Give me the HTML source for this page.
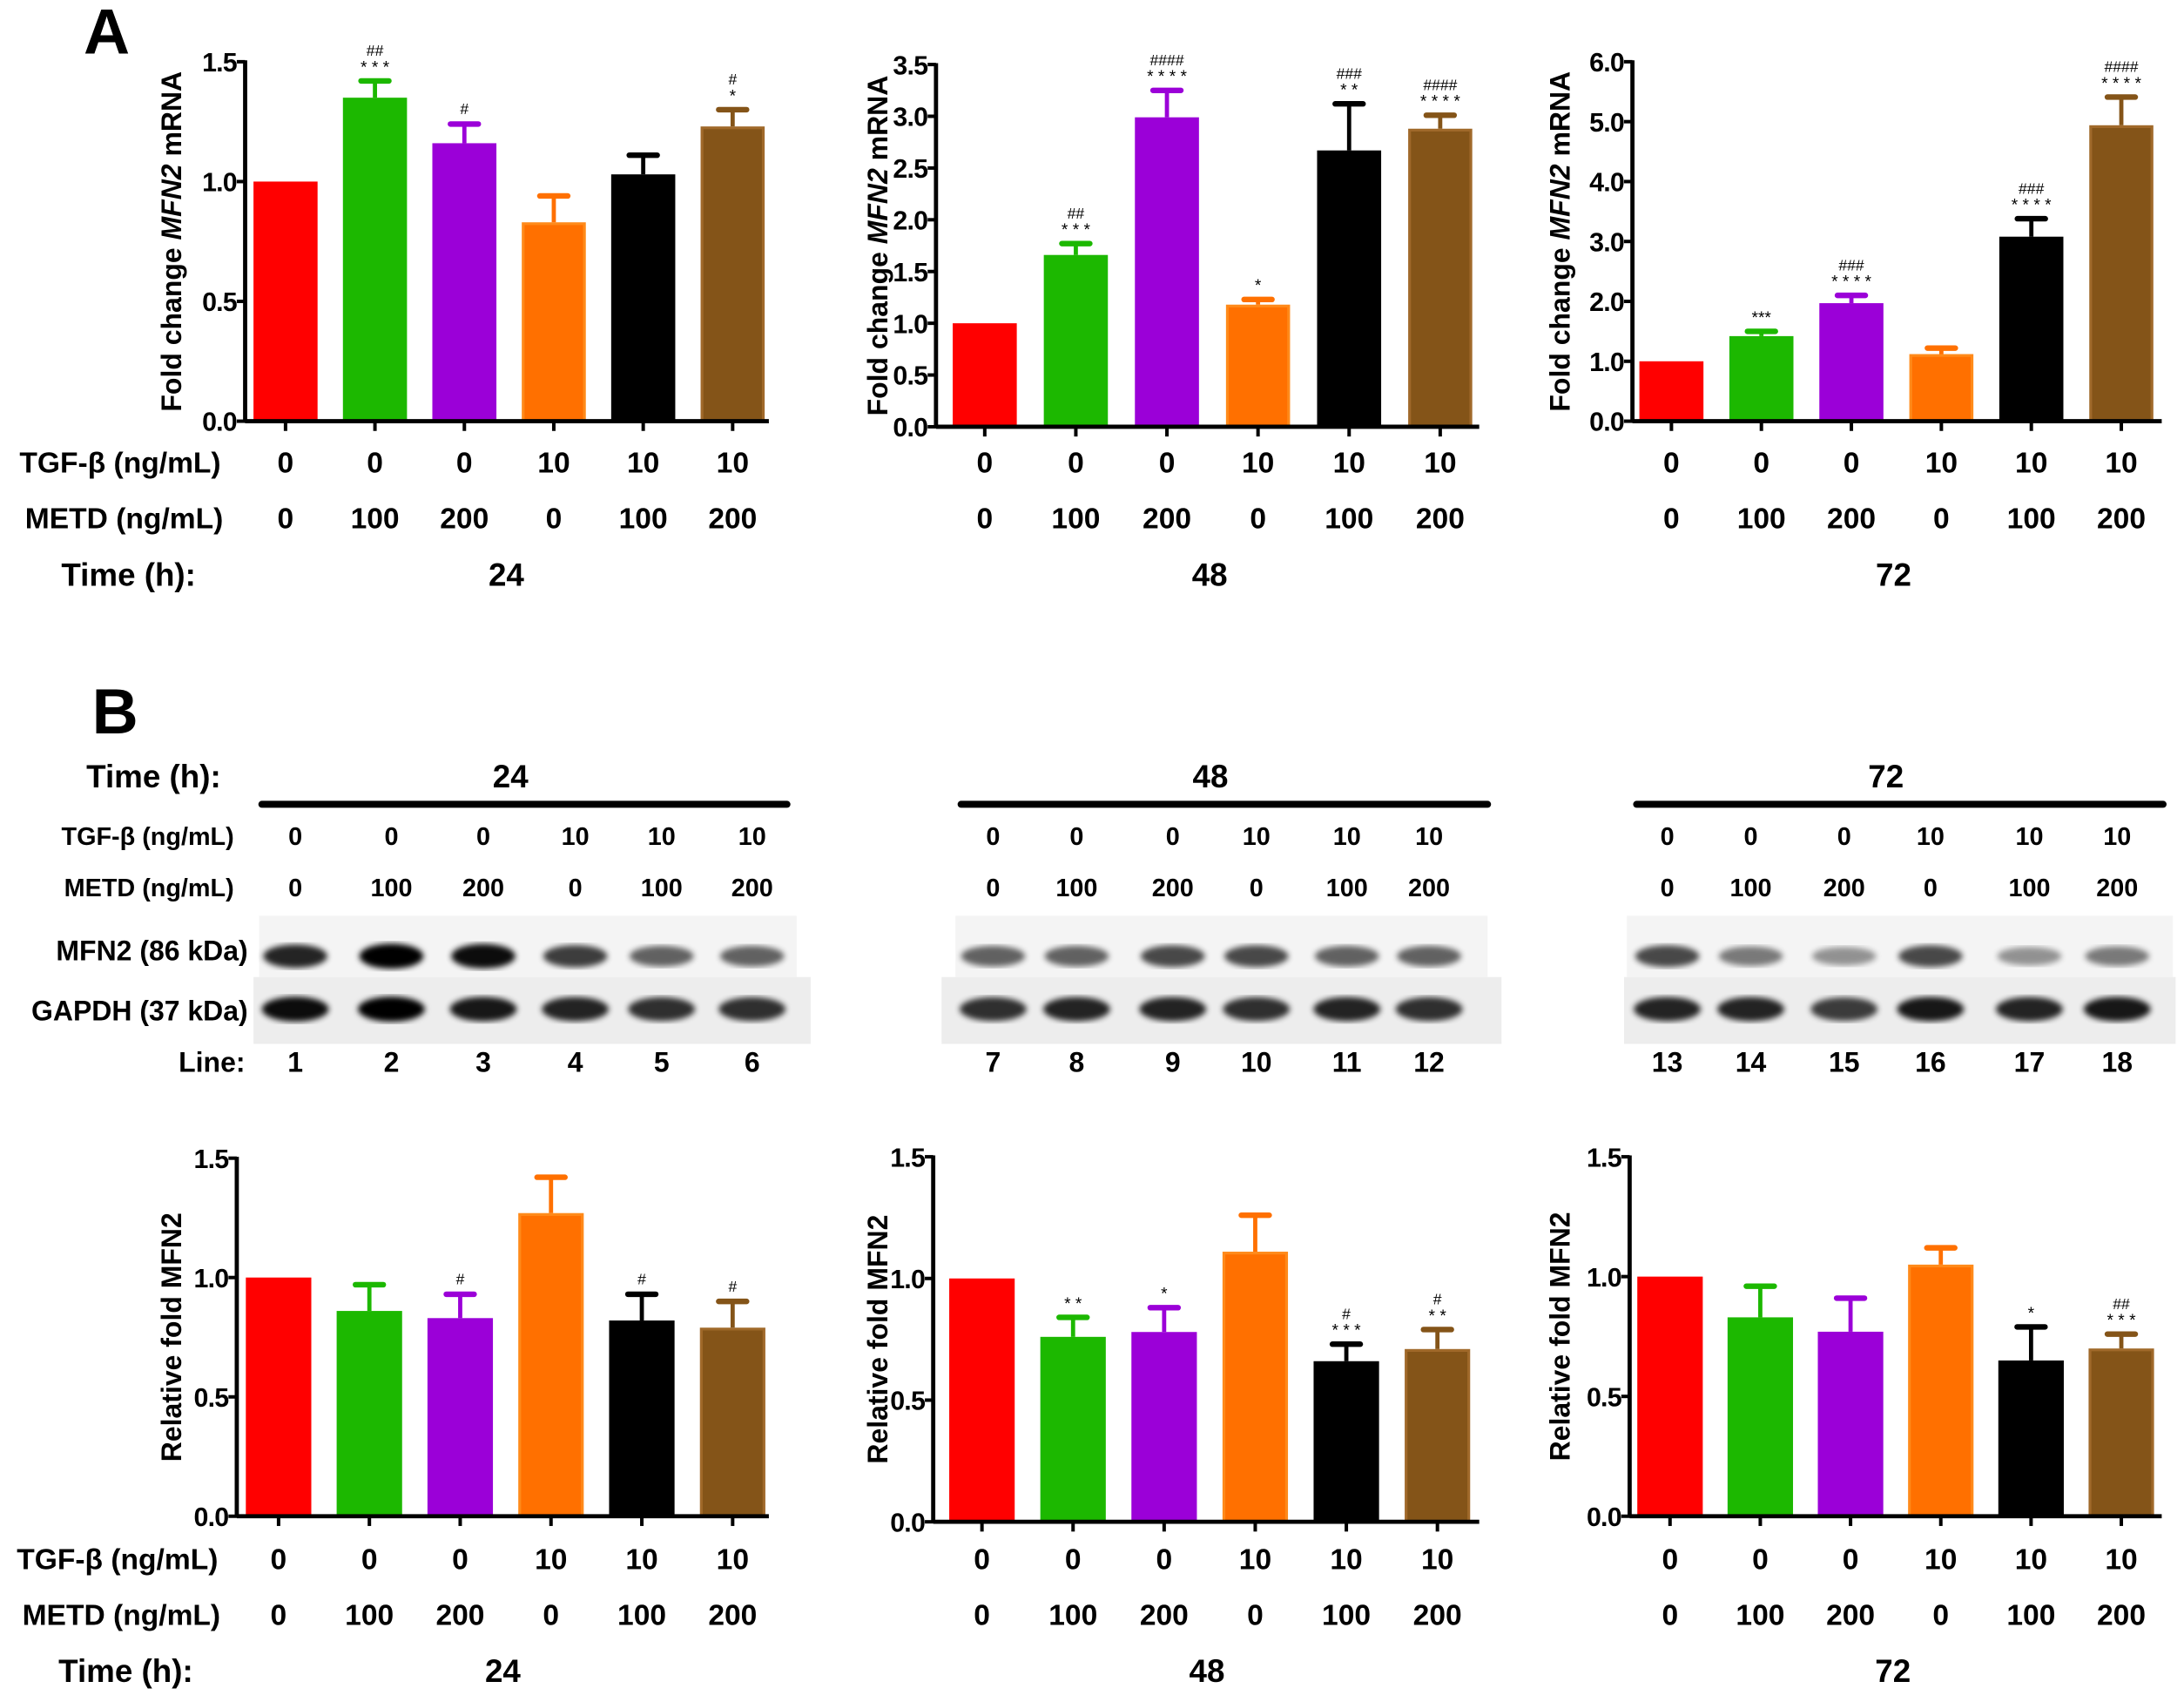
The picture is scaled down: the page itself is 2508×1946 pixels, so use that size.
<!DOCTYPE html>
<html><head><meta charset="utf-8"><style>
html,body{margin:0;padding:0;background:#fff;}
svg{display:block;font-family:"Liberation Sans",sans-serif;font-weight:bold;}
</style></head><body>
<svg id="fig" width="2508" height="1946" viewBox="0 0 1568 1216" xmlns="http://www.w3.org/2000/svg">
<defs>
<filter id="blur1"><feGaussianBlur stdDeviation="2.2"/></filter>
</defs>
<text x="60" y="38" font-size="46">A</text>
<text x="66" y="526" font-size="46">B</text>
<g id="charts"></g>
<g id="blots"></g>
</svg>
<script>
const colors = ["#ff0000","#1cb800","#9b00d8","#ff7000","#000000","#845418"];
const strokeColors = ["#ff0000","#1cb800","#9b00d8","#ff8a1a","#000000","#a0692a"];
const tgfLabels = ["0","0","0","10","10","10"];
const metdLabels = ["0","100","200","0","100","200"];
const timeLabels = ["24","48","72"];

// Panel A (mRNA) values
const a24Values = [1.0, 1.35, 1.16, 0.83, 1.03, 1.23];
const a24Errors = [0, 0.07, 0.08, 0.11, 0.08, 0.07];
const a24Stars = ["", "* * *", "", "", "", "*"];
const a24Hash = ["", "##", "#", "", "", "#"];
const a24Ticks = ["0.0","0.5","1.0","1.5"];

const a48Values = [1.0, 1.66, 2.99, 1.18, 2.67, 2.88];
const a48Errors = [0, 0.11, 0.26, 0.05, 0.45, 0.13];
const a48Stars = ["", "* * *", "* * * *", "*", "* *", "* * * *"];
const a48Hash = ["", "##", "####", "", "###", "####"];
const a48Ticks = ["0.0","0.5","1.0","1.5","2.0","2.5","3.0","3.5"];

const a72Values = [1.0, 1.42, 1.97, 1.12, 3.08, 4.94];
const a72Errors = [0, 0.08, 0.13, 0.1, 0.3, 0.47];
const a72Stars = ["", "***", "* * * *", "", "* * * *", "* * * *"];
const a72Hash = ["", "", "###", "", "###", "####"];
const a72Ticks = ["0.0","1.0","2.0","3.0","4.0","5.0","6.0"];

// Panel B (protein) values
const b24Values = [1.0, 0.86, 0.83, 1.27, 0.82, 0.79];
const b24Errors = [0, 0.11, 0.1, 0.15, 0.11, 0.11];
const b24Stars = ["", "", "", "", "", ""];
const b24Hash = ["", "", "#", "", "#", "#"];
const b48Values = [1.0, 0.76, 0.78, 1.11, 0.66, 0.71];
const b48Errors = [0, 0.08, 0.1, 0.15, 0.07, 0.08];
const b48Stars = ["", "* *", "*", "", "* * *", "* *"];
const b48Hash = ["", "", "", "", "#", "#"];
const b72Values = [1.0, 0.83, 0.77, 1.05, 0.65, 0.70];
const b72Errors = [0, 0.13, 0.14, 0.07, 0.14, 0.06];
const b72Stars = ["", "", "", "", "*", "* * *"];
const b72Hash = ["", "", "", "", "", "##"];
const bTicks = ["0.0","0.5","1.0","1.5"];

const NS = "http://www.w3.org/2000/svg";
const root = document.getElementById("charts");
function mk(tag, attrs, parent, text){
  const e = document.createElementNS(NS, tag);
  for (const k in attrs) e.setAttribute(k, attrs[k]);
  if (text !== undefined) e.textContent = text;
  parent.appendChild(e);
  return e;
}

function drawChart(id, cfg, values, errors, stars, hashes, ticks, titleParts, timeLabel){
  const g = mk("g", {}, root);
  
  
  const yMax = parseFloat(ticks[ticks.length-1]);
  const y = v => cfg.y0 - (v / yMax) * (cfg.y0 - cfg.yTop);
  const x = i => cfg.x0 + cfg.firstCenter + i * cfg.pitch;
  values.forEach((v,i)=>{
    const r = mk("rect", {x: x(i)-cfg.bw/2+1, y: y(v)+1, width: cfg.bw-2, height: cfg.y0 - y(v) - 1, fill: colors[i], stroke: strokeColors[i], "stroke-width": 2}, g);
    
    
    if (errors[i] > 0){
      const top = y(v + errors[i]);
      const e1 = mk("line", {x1: x(i), x2: x(i), y1: y(v), y2: top, stroke: colors[i], "stroke-width": 3}, g);
      
      
      mk("line", {x1: x(i)-10, x2: x(i)+10, y1: top, y2: top, stroke: colors[i], "stroke-width": 4, "stroke-linecap":"round"}, g);
    }
    const topv = y(v + errors[i]);
    if (stars[i]){
      const s = mk("text", {x: x(i), y: topv - 6, "font-size": 12, "text-anchor":"middle", "font-weight":"normal"}, g, stars[i]);
      
      
    }
    if (hashes[i]){
      const h = mk("text", {x: x(i), y: topv - (stars[i] ? 18 : 7), "font-size": 11, "text-anchor":"middle", "font-weight":"normal"}, g, hashes[i]);
      
      
    }
    mk("line", {x1: x(i), x2: x(i), y1: cfg.y0, y2: cfg.y0+7, stroke:"#000","stroke-width":2.5}, g);
  });
  const ya = mk("line", {x1: cfg.x0, x2: cfg.x0, y1: cfg.yTop-1, y2: cfg.y0+1, stroke:"#000", "stroke-width": 3}, g);
  
  
  const xa = mk("line", {x1: cfg.x0, x2: cfg.xEnd, y1: cfg.y0, y2: cfg.y0, stroke:"#000", "stroke-width": 3}, g);
  
  
  ticks.forEach(t=>{
    const v = parseFloat(t);
    mk("line", {x1: cfg.x0-6, x2: cfg.x0, y1: y(v), y2: y(v), stroke:"#000","stroke-width":2.5}, g);
    const tl = mk("text", {x: cfg.x0-6, y: y(v)+7, "font-size": 19, "text-anchor":"end", "letter-spacing":"-0.5"}, g, t);
    
    
  });
  const cy = (cfg.y0 + cfg.yTop)/2;
  const tt = mk("text", {x: 0, y: 0, "font-size": 20, "text-anchor":"middle", transform:`translate(${cfg.titleX},${cy}) rotate(-90)`}, g);
  
  
  titleParts.forEach(p=>{ mk("tspan", p[1]?{"font-style":"italic"}:{}, tt, p[0]); });
  const rowsG = mk("g", {}, g);
  
  
  if (cfg.showRowLabels){
    mk("text", {x: cfg.labelX, y: cfg.row1+8, "font-size": 21}, rowsG, "TGF-β (ng/mL)");
    mk("text", {x: cfg.labelX+4, y: cfg.row2+8, "font-size": 21}, rowsG, "METD (ng/mL)");
    mk("text", {x: cfg.timeX, y: cfg.row3+8, "font-size": 23}, rowsG, "Time (h):");
  }
  tgfLabels.forEach((t,i)=>mk("text", {x: x(i), y: cfg.row1+8, "font-size": 21, "text-anchor":"middle"}, rowsG, t));
  metdLabels.forEach((t,i)=>mk("text", {x: x(i), y: cfg.row2+8, "font-size": 21, "text-anchor":"middle"}, rowsG, t));
  mk("text", {x: (x(2)+x(3))/2 - 2, y: cfg.row3+8, "font-size": 23, "text-anchor":"middle"}, rowsG, timeLabel);
}

const mrnaTitle = [["Fold change "],["MFN2",1],[" mRNA"]];
const protTitle = [["Relative fold MFN2"]];
drawChart("a-24h", {x0:176, y0:302, yTop:44, xEnd:552, firstCenter:29, pitch:64.2, bw:46, titleX:130, row1:331, row2:371, row3:412, showRowLabels:true, labelX:14, timeX:44}, a24Values, a24Errors, a24Stars, a24Hash, a24Ticks, mrnaTitle, timeLabels[0]);
drawChart("a-48h", {x0:672, y0:306, yTop:46, xEnd:1062, firstCenter:35, pitch:65.4, bw:46, titleX:637, row1:331, row2:371, row3:412, showRowLabels:false}, a48Values, a48Errors, a48Stars, a48Hash, a48Ticks, mrnaTitle, timeLabels[1]);
drawChart("a-72h", {x0:1172, y0:302, yTop:44, xEnd:1552, firstCenter:28, pitch:64.6, bw:46, titleX:1127, row1:331, row2:371, row3:412, showRowLabels:false}, a72Values, a72Errors, a72Stars, a72Hash, a72Ticks, mrnaTitle, timeLabels[2]);
drawChart("b-24h", {x0:170, y0:1088, yTop:831, xEnd:552, firstCenter:30, pitch:65.2, bw:47, titleX:130, row1:1118, row2:1158, row3:1199, showRowLabels:true, labelX:12, timeX:42}, b24Values, b24Errors, b24Stars, b24Hash, bTicks, protTitle, timeLabels[0]);
drawChart("b-48h", {x0:670, y0:1092, yTop:830, xEnd:1062, firstCenter:35, pitch:65.4, bw:47, titleX:637, row1:1118, row2:1158, row3:1199, showRowLabels:false}, b48Values, b48Errors, b48Stars, b48Hash, bTicks, protTitle, timeLabels[1]);
drawChart("b-72h", {x0:1170, y0:1088, yTop:830, xEnd:1552, firstCenter:29, pitch:64.8, bw:47, titleX:1127, row1:1118, row2:1158, row3:1199, showRowLabels:false}, b72Values, b72Errors, b72Stars, b72Hash, bTicks, protTitle, timeLabels[2]);

// Western blot
const blotRoot = document.getElementById("blots");
const laneX = [[212,281,347,413,475,540],[713,773,842,902,967,1026],[1197,1257,1324,1386,1457,1520]];
const mfnIntensity = [[0.85,1.0,0.95,0.75,0.6,0.6],[0.6,0.6,0.7,0.7,0.6,0.6],[0.7,0.5,0.4,0.7,0.4,0.5]];
const gapdhIntensity = [[0.95,1.0,0.9,0.85,0.8,0.8],[0.8,0.85,0.85,0.8,0.85,0.8],[0.85,0.85,0.75,0.9,0.85,0.9]];
const lineNums = [["1","2","3","4","5","6"],["7","8","9","10","11","12"],["13","14","15","16","17","18"]];
const segs = [[188,565],[690,1068],[1175,1553]];
const mfnBox = [[186,572],[686,1068],[1168,1560]];
const gapBox = [[182,582],[676,1078],[1166,1562]];
const bg = mk("g", {}, blotRoot);


mk("text", {x:62, y:565, "font-size":23}, bg, "Time (h):");
mk("text", {x:168, y:606, "font-size":18, "text-anchor":"end"}, bg, "TGF-β (ng/mL)");
mk("text", {x:168, y:643, "font-size":18, "text-anchor":"end"}, bg, "METD (ng/mL)");
mk("text", {x:178, y:689, "font-size":20, "text-anchor":"end"}, bg, "MFN2 (86 kDa)");
mk("text", {x:178, y:732, "font-size":20, "text-anchor":"end"}, bg, "GAPDH (37 kDa)");
mk("text", {x:176, y:769, "font-size":20, "text-anchor":"end"}, bg, "Line:");
for (let k=0;k<3;k++){
  const seg = segs[k];
  mk("text", {x:(seg[0]+seg[1])/2 - 10, y:565, "font-size":23, "text-anchor":"middle"}, bg, timeLabels[k]);
  mk("line", {x1:seg[0], x2:seg[1], y1:577, y2:577, stroke:"#000", "stroke-width":5, "stroke-linecap":"round"}, bg);
  mk("rect", {x:mfnBox[k][0], y:657, width:mfnBox[k][1]-mfnBox[k][0], height:44, fill:"#f4f4f4"}, bg);
  mk("rect", {x:gapBox[k][0], y:701, width:gapBox[k][1]-gapBox[k][0], height:48, fill:"#ededed"}, bg);
  laneX[k].forEach((lx,i)=>{
    mk("text", {x:lx, y:606, "font-size":18, "text-anchor":"middle"}, bg, tgfLabels[i]);
    mk("text", {x:lx, y:643, "font-size":18, "text-anchor":"middle"}, bg, metdLabels[i]);
    const b1 = mk("ellipse", {cx:lx, cy:686, rx:23, ry:5+4*mfnIntensity[k][i], fill:"#000", opacity:mfnIntensity[k][i], filter:"url(#blur1)"}, bg);
    
    
    const b2 = mk("ellipse", {cx:lx, cy:724, rx:24, ry:7+2*gapdhIntensity[k][i], fill:"#000", opacity:gapdhIntensity[k][i], filter:"url(#blur1)"}, bg);
    
    
    mk("text", {x:lx, y:769, "font-size":20, "text-anchor":"middle"}, bg, lineNums[k][i]);
  });
}
</script>
</body></html>
